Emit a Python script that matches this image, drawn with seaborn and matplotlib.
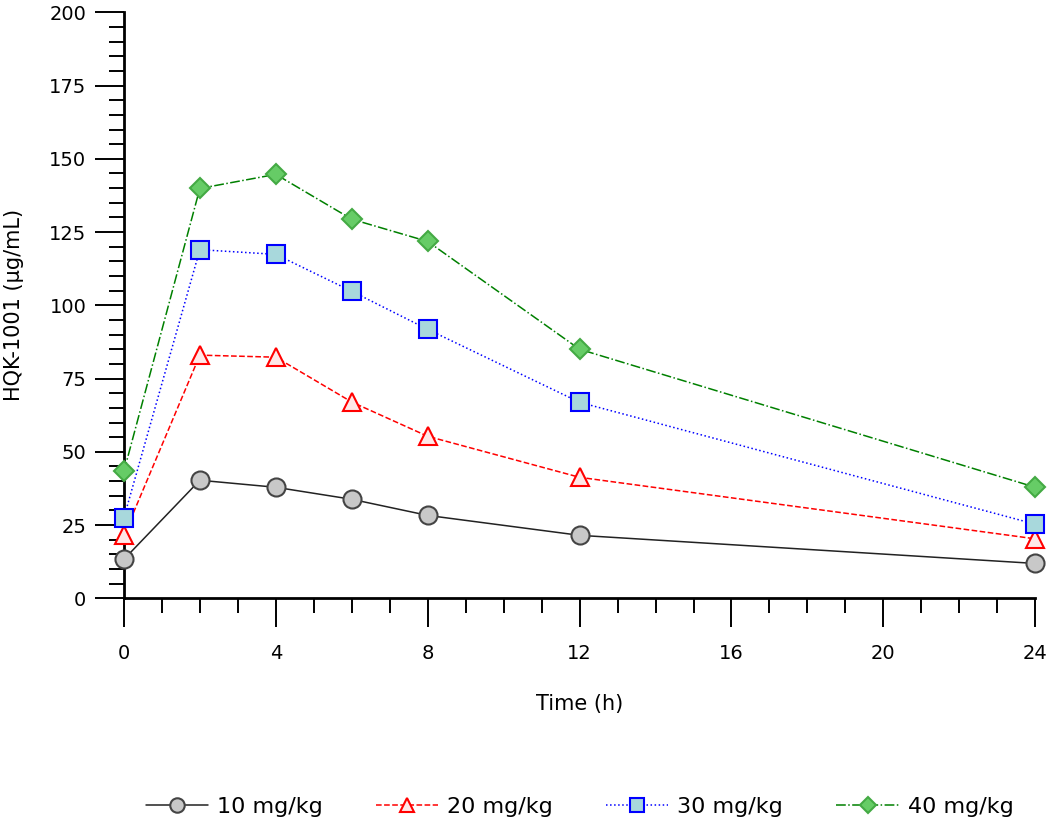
import pandas as pd
import matplotlib.pyplot as plt
import seaborn as sns
from matplotlib.ticker import MultipleLocator

# data
time_h = [0, 2, 4, 6, 8, 12, 24]
dose_10 = [13.3, 40.3, 37.9, 33.8, 28.3, 21.5, 11.9]
dose_20 = [21.5, 83.0, 82.3, 67.0, 55.3, 41.3, 20.3]
dose_30 = [27.5, 119.0, 117.4, 104.8, 91.8, 66.9, 25.3]
dose_40 = [43.3, 139.9, 144.7, 129.4, 121.8, 85.0, 37.9]

labels = ["10 mg/kg", "20 mg/kg", "30 mg/kg", "40 mg/kg"]
series = [dose_10, dose_20, dose_30, dose_40]

styles = [
    dict(color="#222222", linestyle="-", marker="o", mfc="#c8c8c8", mec="#444444", ms=13),
    dict(color="red", linestyle="--", marker="^", mfc="#ffe8e8", mec="red", ms=13),
    dict(color="blue", linestyle=":", marker="s", mfc="#a8d8dc", mec="blue", ms=13),
    dict(color="green", linestyle="-.", marker="D", mfc="#66cc66", mec="#44aa44", ms=10),
]

sns.set_style("ticks")
plt.rcParams["font.family"] = ["DejaVu Sans"]
plt.rcParams["text.color"] = "black"
plt.rcParams["axes.labelcolor"] = "black"
plt.rcParams["xtick.color"] = "black"
plt.rcParams["ytick.color"] = "black"

fig = plt.figure(figsize=(10.5, 8.23), dpi=100)
ax = fig.add_axes([0.118, 0.273, 0.868, 0.712])

for vals, lab, st in zip(series, labels, styles):
    df = pd.DataFrame({"Time": time_h, "Conc": vals})
    sns.lineplot(
        data=df, x="Time", y="Conc", ax=ax, label=lab,
        color=st["color"], linestyle=st["linestyle"], linewidth=1.1,
        marker=st["marker"], markersize=st["ms"],
        markerfacecolor=st["mfc"], markeredgecolor=st["mec"],
        markeredgewidth=1.5, clip_on=False, zorder=3,
    )

ax.set_xlim(0, 24)
ax.set_ylim(0, 200)
ax.xaxis.set_major_locator(MultipleLocator(4))
ax.xaxis.set_minor_locator(MultipleLocator(1))
ax.yaxis.set_major_locator(MultipleLocator(25))
ax.yaxis.set_minor_locator(MultipleLocator(5))
ax.tick_params(which="major", length=21, width=1.4, labelsize=14, color="black")
ax.tick_params(which="minor", length=11, width=1.4, color="black")
ax.tick_params(axis="x", which="major", pad=12)
ax.tick_params(axis="y", which="major", pad=6)

sns.despine(ax=ax)
for s in ["left", "bottom"]:
    ax.spines[s].set_linewidth(2)
    ax.spines[s].set_color("black")

ax.set_xlabel("Time (h)", fontsize=15, labelpad=22)
ax.set_ylabel("HQK-1001 (µg/mL)", fontsize=15, labelpad=18)

ax.legend(
    loc="upper center", bbox_to_anchor=(0.5, -0.305), ncol=4, frameon=False,
    fontsize=16, handlelength=2.8, columnspacing=2.4, handletextpad=0.4,
    markerscale=0.8,
)

fig.savefig("out.png", dpi=100)
